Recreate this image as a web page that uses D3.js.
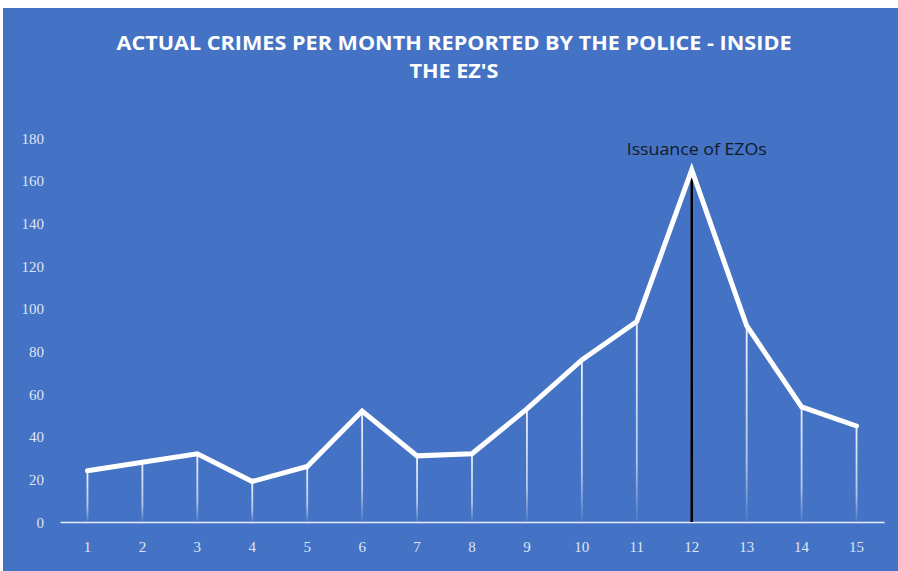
<!DOCTYPE html>
<html><head><meta charset="utf-8">
<script src="https://cdn.jsdelivr.net/npm/d3@7"></script>
<style>html,body{margin:0;padding:0;background:#fff}svg{display:block}</style>
</head><body>
<script>
const months = ["1","2","3","4","5","6","7","8","9","10","11","12","13","14","15"];
const crimes = [24, 28, 32, 19, 26, 52, 31, 32, 53, 76, 94, 165, 92, 54, 45];
const yTicks = [0, 20, 40, 60, 80, 100, 120, 140, 160, 180];
const titleLines = ["ACTUAL CRIMES PER MONTH REPORTED BY THE POLICE - INSIDE", "THE EZ'S"];
const markerMonth = "12";
const markerLabel = "Issuance of EZOs";

const W = 898, H = 571;
const svg = d3.select("body").append("svg").attr("width", W).attr("height", H);
svg.append("rect").attr("x", 3).attr("y", 8).attr("width", W - 3).attr("height", H - 8).attr("fill", "#4472C4");

const x = d3.scaleBand().domain(months).range([60, 884]);
const y = d3.scaleLinear().domain([0, 180]).range([522, 138]);
const cx = d => x(d) + x.bandwidth() / 2;

const defs = svg.append("defs");
const grad = defs.append("linearGradient").attr("id", "fade").attr("x1", 0).attr("y1", 0).attr("x2", 0).attr("y2", 1);
grad.append("stop").attr("offset", "0%").attr("stop-color", "#fff").attr("stop-opacity", 0.9);
grad.append("stop").attr("offset", "70%").attr("stop-color", "#fff").attr("stop-opacity", 0.6);
grad.append("stop").attr("offset", "100%").attr("stop-color", "#fff").attr("stop-opacity", 0.05);

// title: condensed to match line 1 width, same ratio for line 2
const titleSel = svg.append("g").selectAll("text").data(titleLines).join("text")
  .attr("x", 454).attr("y", (d, i) => 50 + i * 28)
  .attr("text-anchor", "middle").attr("fill", "#fff")
  .attr("font-family", "'Open Sans', sans-serif").attr("font-weight", 700).attr("font-size", 19)
  .text(d => d);
const natural = titleSel.nodes().map(n => n.getComputedTextLength());
const ratio = 675 / natural[0];
titleSel.attr("textLength", (d, i) => natural[i] * ratio).attr("lengthAdjust", "spacingAndGlyphs");

// y axis labels
const ya = svg.append("g").attr("transform", "translate(44,0)")
  .call(d3.axisLeft(y).tickValues(yTicks).tickSize(0).tickPadding(0));
ya.select(".domain").remove();
ya.selectAll("text").attr("fill", "#dfe6f5").attr("font-size", 15)
  .attr("font-family", "'Liberation Serif', serif").attr("dy", "0.35em");

// x axis
const xa = svg.append("g").attr("transform", "translate(0,522)")
  .call(d3.axisBottom(x).tickSize(0).tickPadding(19));
xa.select(".domain").attr("stroke", "#e8eefa").attr("stroke-width", 1.5);
xa.selectAll("text").attr("fill", "#dfe6f5").attr("font-size", 15)
  .attr("font-family", "'Liberation Serif', serif");

// drop lines
svg.append("g").selectAll("rect").data(months).join("rect")
  .attr("x", d => cx(d) - 0.9).attr("width", 1.8)
  .attr("y", (d, i) => y(crimes[i]))
  .attr("height", (d, i) => y(0) - y(crimes[i]))
  .attr("fill", "url(#fade)");

// marker line
svg.append("line")
  .attr("x1", cx(markerMonth)).attr("x2", cx(markerMonth))
  .attr("y1", y(crimes[months.indexOf(markerMonth)])).attr("y2", y(0))
  .attr("stroke", "#000").attr("stroke-width", 2.5);

// series line
const line = d3.line().x((d, i) => cx(months[i])).y(d => y(d));
svg.append("path").datum(crimes).attr("d", line)
  .attr("fill", "none").attr("stroke", "#fff").attr("stroke-width", 5)
  .attr("stroke-linejoin", "miter").attr("stroke-miterlimit", 10).attr("stroke-linecap", "round");

// marker label
svg.append("text").attr("x", cx(markerMonth) + 5).attr("y", 155)
  .attr("text-anchor", "middle").attr("fill", "#111a2b")
  .attr("font-family", "'Open Sans', sans-serif").attr("font-size", 16)
  .attr("textLength", 140).attr("lengthAdjust", "spacingAndGlyphs")
  .text(markerLabel);
</script>
</body></html>
